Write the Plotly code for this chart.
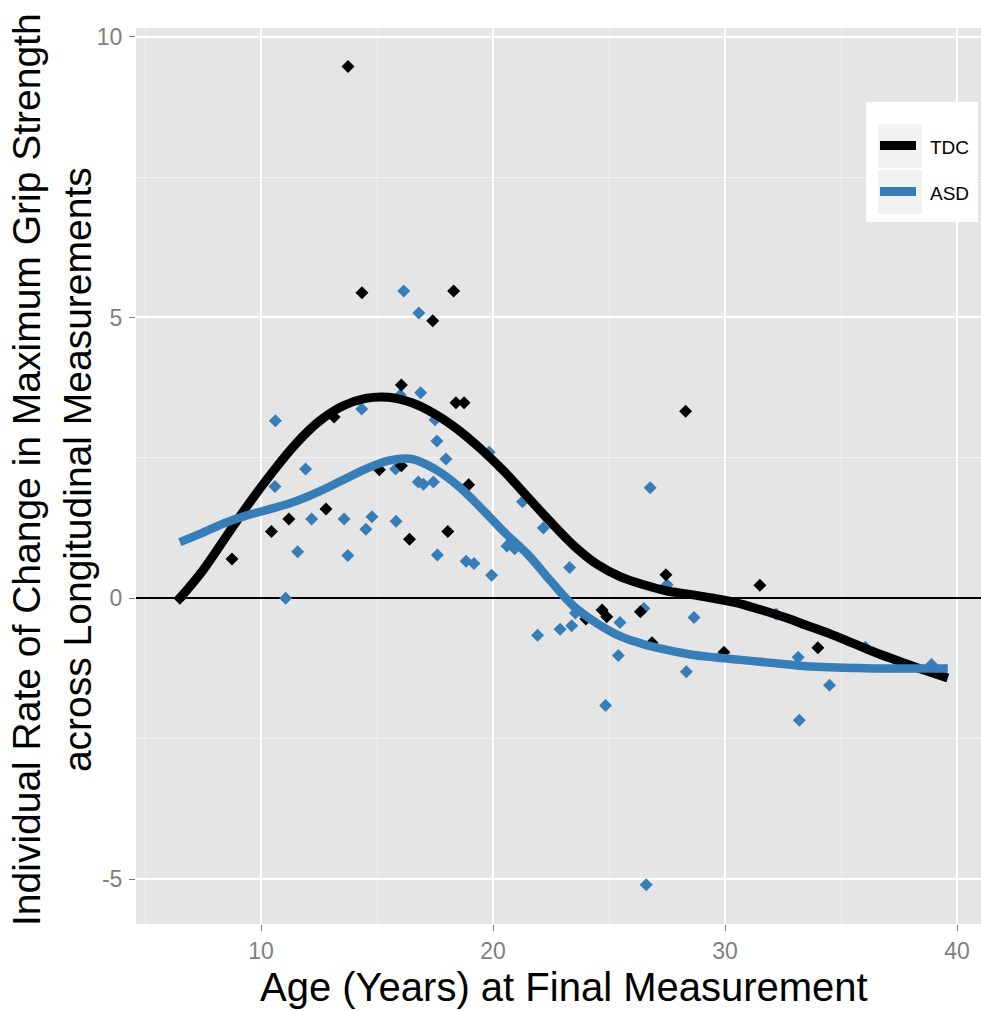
import plotly.graph_objects as go

# ---------------- data ----------------
tdc_age = [6.5, 8.75, 10.45, 11.2, 12.8, 13.15, 13.75, 14.35, 15.1, 16.05, 16.05, 16.4,
           17.4, 18.05, 18.3, 18.4, 18.75, 18.95, 24.0, 24.7, 24.9, 26.35, 26.85,
           27.45, 28.3, 29.95, 31.5, 34.0]
tdc_rate = [0.0, 0.70, 1.19, 1.41, 1.59, 3.23, 9.47, 5.44, 2.29, 2.36, 3.80, 1.05,
            4.94, 1.19, 5.47, 3.48, 3.48, 2.02, -0.37, -0.21, -0.33, -0.24, -0.79,
            0.42, 3.33, -0.96, 0.23, -0.88]

asd_age = [10.62, 10.6, 11.06, 11.58, 11.92, 12.18, 13.58, 13.74, 14.34, 14.52, 14.78,
           15.8, 15.82, 16.0, 16.15, 16.8, 16.88, 16.78, 17.0, 17.43, 17.5, 17.58, 17.6,
           17.97, 18.84, 19.18, 19.83, 19.94, 20.6, 20.93, 21.27, 21.92, 22.17, 22.89,
           23.3, 23.39, 23.55, 24.85, 25.4, 25.47, 26.5, 26.6, 26.77, 27.5, 28.33,
           28.66, 32.2, 33.15, 33.2, 34.5, 36.05, 38.9]
asd_rate = [3.16, 1.99, 0.0, 0.83, 2.30, 1.41, 1.41, 0.76, 3.37, 1.23, 1.45,
            2.30, 1.37, 3.62, 5.47, 5.08, 3.66, 2.07, 2.03, 2.07, 3.18, 2.80, 0.77,
            2.48, 0.66, 0.62, 2.60, 0.41, 0.93, 0.88, 1.72, -0.66, 1.25, -0.55,
            0.55, -0.49, -0.26, -1.91, -1.02, -0.43, -0.18, -5.10, 1.97, 0.24, -1.31,
            -0.34, -0.28, -1.05, -2.17, -1.55, -0.87, -1.18]

fit_age = [6.5, 7.5, 8.5, 9.5, 10.5, 11.5, 12.5, 13.5, 14.5, 15.5, 16.5, 17.5, 18.5,
           19.5, 20.5, 21.5, 22.5, 23.5, 24.5, 25.5, 26.5, 27.5, 28.5, 29.5, 30.5,
           31.5, 32.5, 33.5, 34.5, 35.5, 36.5, 37.5, 38.5, 39.6]
tdc_fit = [0.0, 0.5, 1.1, 1.7, 2.25, 2.75, 3.15, 3.42, 3.56, 3.58, 3.48, 3.28, 3.0,
           2.65, 2.25, 1.8, 1.35, 0.93, 0.6, 0.38, 0.24, 0.13, 0.07, 0.0, -0.08,
           -0.2, -0.33, -0.48, -0.63, -0.8, -0.97, -1.12, -1.27, -1.42]
asd_fit = [1.0, 1.17, 1.35, 1.49, 1.6, 1.73, 1.9, 2.1, 2.3, 2.45, 2.48, 2.3, 2.0,
           1.6, 1.17, 0.78, 0.3, -0.15, -0.45, -0.68, -0.82, -0.92, -1.0, -1.05,
           -1.09, -1.13, -1.17, -1.21, -1.23, -1.24, -1.25, -1.25, -1.25, -1.25]

groups = ["TDC", "ASD"]
x_ticks = [10, 20, 30, 40]
x_tick_labels = ["10", "20", "30", "40"]
y_ticks = [-5, 0, 5, 10]
y_tick_labels = ["-5", "0", "5", "10"]

x_title = "Age (Years) at Final Measurement"
y_title = "Individual Rate of Change in Maximum Grip Strength<br>across Longitudinal Measurements"

# ---------------- styling ----------------
W, H = 981, 1011
ML, MR, MT, MB = 136, 0, 28, 87
BLACK = "#000000"
BLUE = "#377EB8"
FONT = "Liberation Sans, Arial, sans-serif"
TICK_GREY = "#7F7F7F"

pw = W - ML - MR
ph = H - MT - MB


def px_x(px):
    return (px - ML) / pw


def px_y(py):
    return (H - MB - py) / ph


fig = go.Figure()

fig.add_trace(go.Scatter(x=asd_age, y=asd_rate, mode="markers",
                         marker=dict(symbol="diamond", size=10, color=BLUE),
                         showlegend=False, hoverinfo="skip"))
fig.add_trace(go.Scatter(x=tdc_age, y=tdc_rate, mode="markers",
                         marker=dict(symbol="diamond", size=10, color=BLACK),
                         showlegend=False, hoverinfo="skip"))
fig.add_trace(go.Scatter(x=fit_age, y=tdc_fit, mode="lines",
                         line=dict(color=BLACK, width=9, shape="spline", smoothing=1.0),
                         showlegend=False, hoverinfo="skip"))
fig.add_trace(go.Scatter(x=fit_age, y=asd_fit, mode="lines",
                         line=dict(color=BLUE, width=8.5, shape="spline", smoothing=1.0),
                         showlegend=False, hoverinfo="skip"))

axis_common = dict(
    showline=False, ticks="outside", ticklen=6, tickwidth=1, tickcolor=TICK_GREY,
    tickfont=dict(family=FONT, size=23, color=TICK_GREY),
    showgrid=True, gridcolor="#FFFFFF", gridwidth=2,
)

fig.update_xaxes(range=[4.612, 41.03], tickvals=x_ticks, ticktext=x_tick_labels, zeroline=False,
                 minor=dict(dtick=5, tick0=5, showgrid=True, gridcolor="#F2F2F2", gridwidth=1, ticks=""),
                 **axis_common)
fig.update_yaxes(range=[-5.80, 10.155], tickvals=y_ticks, ticktext=y_tick_labels, zeroline=True,
                 zerolinecolor="#000000", zerolinewidth=1.6,
                 minor=dict(dtick=2.5, tick0=-2.5, showgrid=True, gridcolor="#F2F2F2", gridwidth=1, ticks=""),
                 ticklabelstandoff=2,
                 **axis_common)

# manual legend (box, grey key backgrounds, key lines)
shapes = [
    dict(type="rect", xref="paper", yref="paper", x0=px_x(866), x1=px_x(978),
         y0=px_y(222), y1=px_y(102), fillcolor="#FFFFFF", line=dict(width=0), layer="above"),
    dict(type="rect", xref="paper", yref="paper", x0=px_x(878), x1=px_x(922),
         y0=px_y(168), y1=px_y(124), fillcolor="#F2F2F2", line=dict(width=0), layer="above"),
    dict(type="rect", xref="paper", yref="paper", x0=px_x(878), x1=px_x(922),
         y0=px_y(214), y1=px_y(170), fillcolor="#F2F2F2", line=dict(width=0), layer="above"),
    dict(type="line", xref="paper", yref="paper", x0=px_x(880), x1=px_x(916),
         y0=px_y(145.5), y1=px_y(145.5), line=dict(color=BLACK, width=9), layer="above"),
    dict(type="line", xref="paper", yref="paper", x0=px_x(880), x1=px_x(916),
         y0=px_y(191.5), y1=px_y(191.5), line=dict(color=BLUE, width=9), layer="above"),
]

annotations = [
    dict(text=groups[0], xref="paper", yref="paper", x=px_x(928), y=px_y(147),
         xanchor="left", yanchor="middle", showarrow=False,
         font=dict(family=FONT, size=19, color="#000000")),
    dict(text=groups[1], xref="paper", yref="paper", x=px_x(928), y=px_y(193),
         xanchor="left", yanchor="middle", showarrow=False,
         font=dict(family=FONT, size=19, color="#000000")),
    dict(text=x_title, xref="paper", yref="paper", x=px_x(564), y=px_y(987),
         xanchor="center", yanchor="middle", showarrow=False,
         font=dict(family=FONT, size=40, color="#000000")),
    dict(text=y_title, xref="paper", yref="paper", x=px_x(52), y=px_y(470),
         xanchor="center", yanchor="middle", showarrow=False, textangle=-90,
         font=dict(family=FONT, size=39, color="#000000")),
]

fig.update_layout(
    width=W, height=H,
    margin=dict(l=ML, r=MR, t=MT, b=MB, pad=0),
    paper_bgcolor="#FFFFFF", plot_bgcolor="#E5E5E5",
    showlegend=False,
    shapes=shapes, annotations=annotations,
    font=dict(family=FONT),
)

fig.write_html("out.html", config={"displayModeBar": False},
               post_script="document.body.style.margin='0px';document.body.style.overflow='hidden';")
